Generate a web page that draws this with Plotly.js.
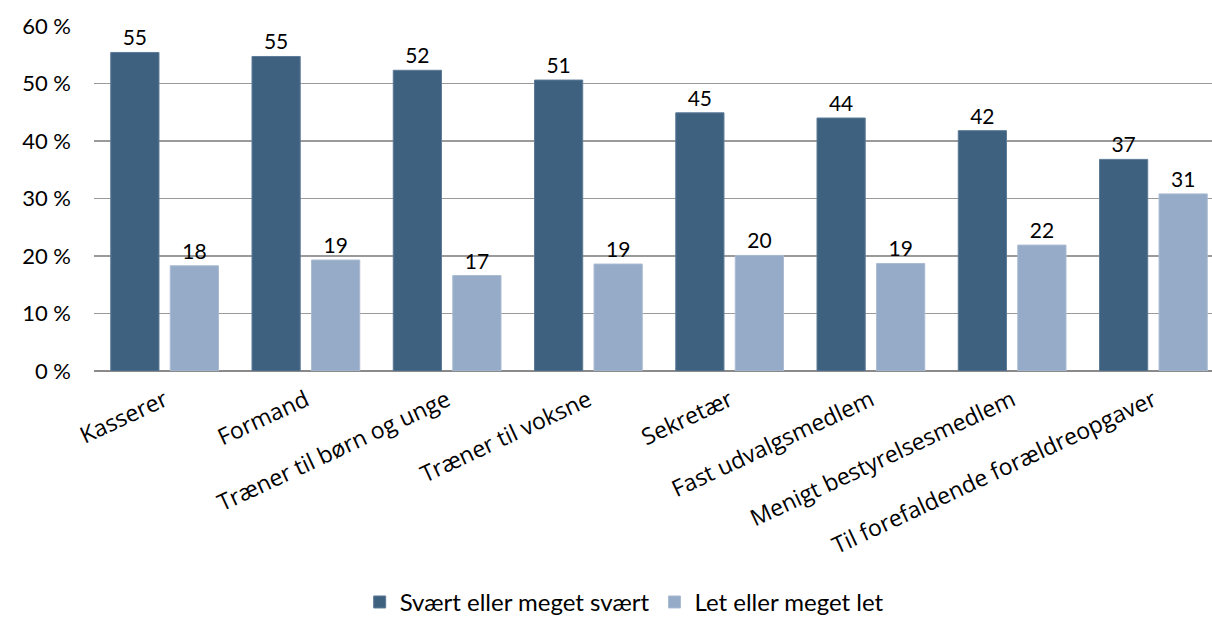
<!DOCTYPE html>
<html>
<head>
<meta charset="utf-8">
<script src="https://cdn.plot.ly/plotly-3.0.1.min.js"></script>
<style>html,body{margin:0;padding:0;background:#fff;}#chart{width:1212px;height:621px;}</style>
</head>
<body>
<div id="chart"></div>
<script>
const categories = ["Kasserer", "Formand", "Træner til børn og unge", "Træner til voksne", "Sekretær", "Fast udvalgsmedlem", "Menigt bestyrelsesmedlem", "Til forefaldende forældreopgaver"];
const seriesNames = ["Svært eller meget svært", "Let eller meget let"];
const hardValues = [55.4, 54.7, 52.3, 50.6, 44.9, 44.0, 41.8, 36.8];
const easyValues = [18.3, 19.3, 16.6, 18.6, 20.1, 18.7, 21.9, 30.8];
const yTickVals = [0, 10, 20, 30, 40, 50, 60];
const yTickText = ["0 %", "10 %", "20 %", "30 %", "40 %", "50 %", "60 %"];

const labelFont = {family: "Lato, 'Open Sans', sans-serif", size: 21, color: "#000"};

const traces = [
  {type: "bar", name: seriesNames[0], x: categories, y: hardValues,
   marker: {color: "#3f6180", line: {color: "#5d7b97", width: 1}},
   texttemplate: "%{y:.0f}", textposition: "outside", textfont: labelFont, cliponaxis: false, hoverinfo: "x+y"},
  {type: "bar", name: seriesNames[1], x: categories, y: easyValues,
   marker: {color: "#95abc7", line: {color: "#aabbd2", width: 1}},
   texttemplate: "%{y:.0f}", textposition: "outside", textfont: labelFont, cliponaxis: false, hoverinfo: "x+y"}
];

const layout = {
  width: 1212, height: 621,
  margin: {l: 94, r: 0, t: 26, b: 250},
  paper_bgcolor: "#fff", plot_bgcolor: "#fff",
  barmode: "group", bargap: 0.157, bargroupgap: 0.19,
  showlegend: true,
  legend: {orientation: "h", xref: "container", yref: "container", x: 0.515, xanchor: "center", y: 0.03, yanchor: "middle",
           font: {family: "Lato, 'Open Sans', sans-serif", size: 24, color: "#000"}, itemwidth: 30, tracegroupgap: 0},
  xaxis: {type: "category", range: [-0.5, 7.415], tickangle: -25, showgrid: false, showline: false, ticks: "outside", ticklen: 6, tickcolor: "rgba(0,0,0,0)",
          tickfont: {family: "'Open Sans', 'Noto Sans', sans-serif", size: 23, color: "#000"}, automargin: false, fixedrange: true},
  yaxis: {range: [0, 60], tickvals: yTickVals, ticktext: yTickText, showgrid: true, gridcolor: "#9a9a9a", gridwidth: 1.5,
          zeroline: true, zerolinecolor: "#8a8a8a", zerolinewidth: 2, showline: false, ticks: "", ticklabelstandoff: 22,
          tickfont: {family: "Lato, 'Open Sans', sans-serif", size: 22, color: "#000"}, automargin: false, fixedrange: true}
};

Plotly.newPlot("chart", traces, layout, {displayModeBar: false, staticPlot: true});
</script>
</body>
</html>
